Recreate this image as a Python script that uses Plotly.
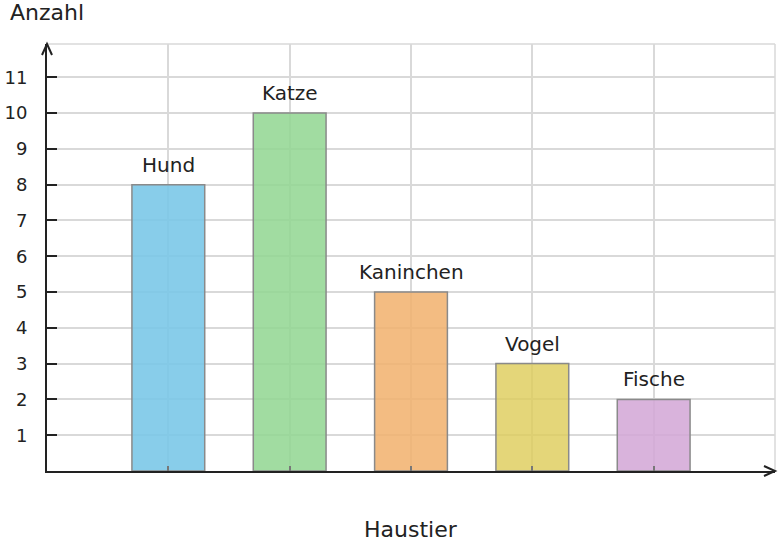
import plotly.graph_objects as go

# Daten
haustiere = ['Hund', 'Katze', 'Kaninchen', 'Vogel', 'Fische']
anzahl = [8, 10, 5, 3, 2]
farben = ['rgba(120,198,231,0.88)', 'rgba(145,214,145,0.85)', 'rgba(241,176,108,0.85)',
          'rgba(222,205,92,0.82)', 'rgba(210,166,214,0.85)']
y_ticks = list(range(1, 12))

FONT = 'DejaVu Sans'
ACHSE = '#222222'
GITTER = '#d9d9d9'

fig = go.Figure()
fig.add_trace(go.Bar(
    x=haustiere, y=anzahl, width=0.6,
    marker=dict(color=farben, line=dict(color='#8a8a8a', width=1.5)),
    hoverinfo='x+y', showlegend=False,
))

# Beschriftung über den Balken
for name, wert in zip(haustiere, anzahl):
    fig.add_annotation(x=name, y=wert, text=name, showarrow=False,
                       yanchor='bottom', yshift=6,
                       font=dict(family=FONT, size=20, color='#222222'))

# Achsentitel
fig.add_annotation(x=-0.0536, y=1.074, xref='paper', yref='paper', text='Anzahl', showarrow=False,
                   xanchor='left', yanchor='middle', font=dict(family=FONT, size=22, color='#222222'))
fig.add_annotation(x=0.5, y=-0.136, xref='paper', yref='paper', text='Haustier', showarrow=False,
                   xanchor='center', yanchor='middle', font=dict(family=FONT, size=22, color='#222222'))

# Rahmen oben/rechts (grau)
fig.add_shape(type='line', xref='paper', yref='paper', x0=0, x1=1, y0=1, y1=1,
              line=dict(color=GITTER, width=1.5), layer='below')
fig.add_shape(type='line', xref='paper', yref='paper', x0=1, x1=1, y0=0, y1=1,
              line=dict(color=GITTER, width=1.5), layer='below')

# Pfeilspitzen
fig.add_shape(type='path', xref='paper', yref='paper', xanchor=0, yanchor=1,
              xsizemode='pixel', ysizemode='pixel', path='M -5,-11 L 0,0 L 5,-11',
              line=dict(color=ACHSE, width=2))
fig.add_shape(type='path', xref='paper', yref='paper', xanchor=1, yanchor=0,
              xsizemode='pixel', ysizemode='pixel', path='M -11,5 L 0,0 L -11,-5',
              line=dict(color=ACHSE, width=2))

fig.update_layout(
    width=779, height=548,
    margin=dict(l=47, r=4, t=44, b=77),
    plot_bgcolor='white', paper_bgcolor='white',
    font=dict(family=FONT, size=18, color='#222222'),
    xaxis=dict(range=[-1, 5], showticklabels=False, showgrid=True, gridcolor=GITTER, gridwidth=1.5,
               ticks='inside', ticklen=5, tickwidth=2, tickcolor='#777777', automargin=False,
               showline=True, linecolor=ACHSE, linewidth=2, zeroline=False, fixedrange=True),
    yaxis=dict(range=[0, 11.93], tickvals=y_ticks, showgrid=True, gridcolor=GITTER, gridwidth=1.5,
               ticks='inside', ticklen=10, tickwidth=2, tickcolor=ACHSE, ticklabelstandoff=14,
               showline=True, linecolor=ACHSE, linewidth=2, zeroline=False, automargin=False,
               tickfont=dict(size=18), fixedrange=True),
)

# Seitenrand entfernen, damit die Figur bei (0,0) beginnt
fig.write_html("out.html", config={'displayModeBar': False},
               post_script="document.body.style.margin='0';")
